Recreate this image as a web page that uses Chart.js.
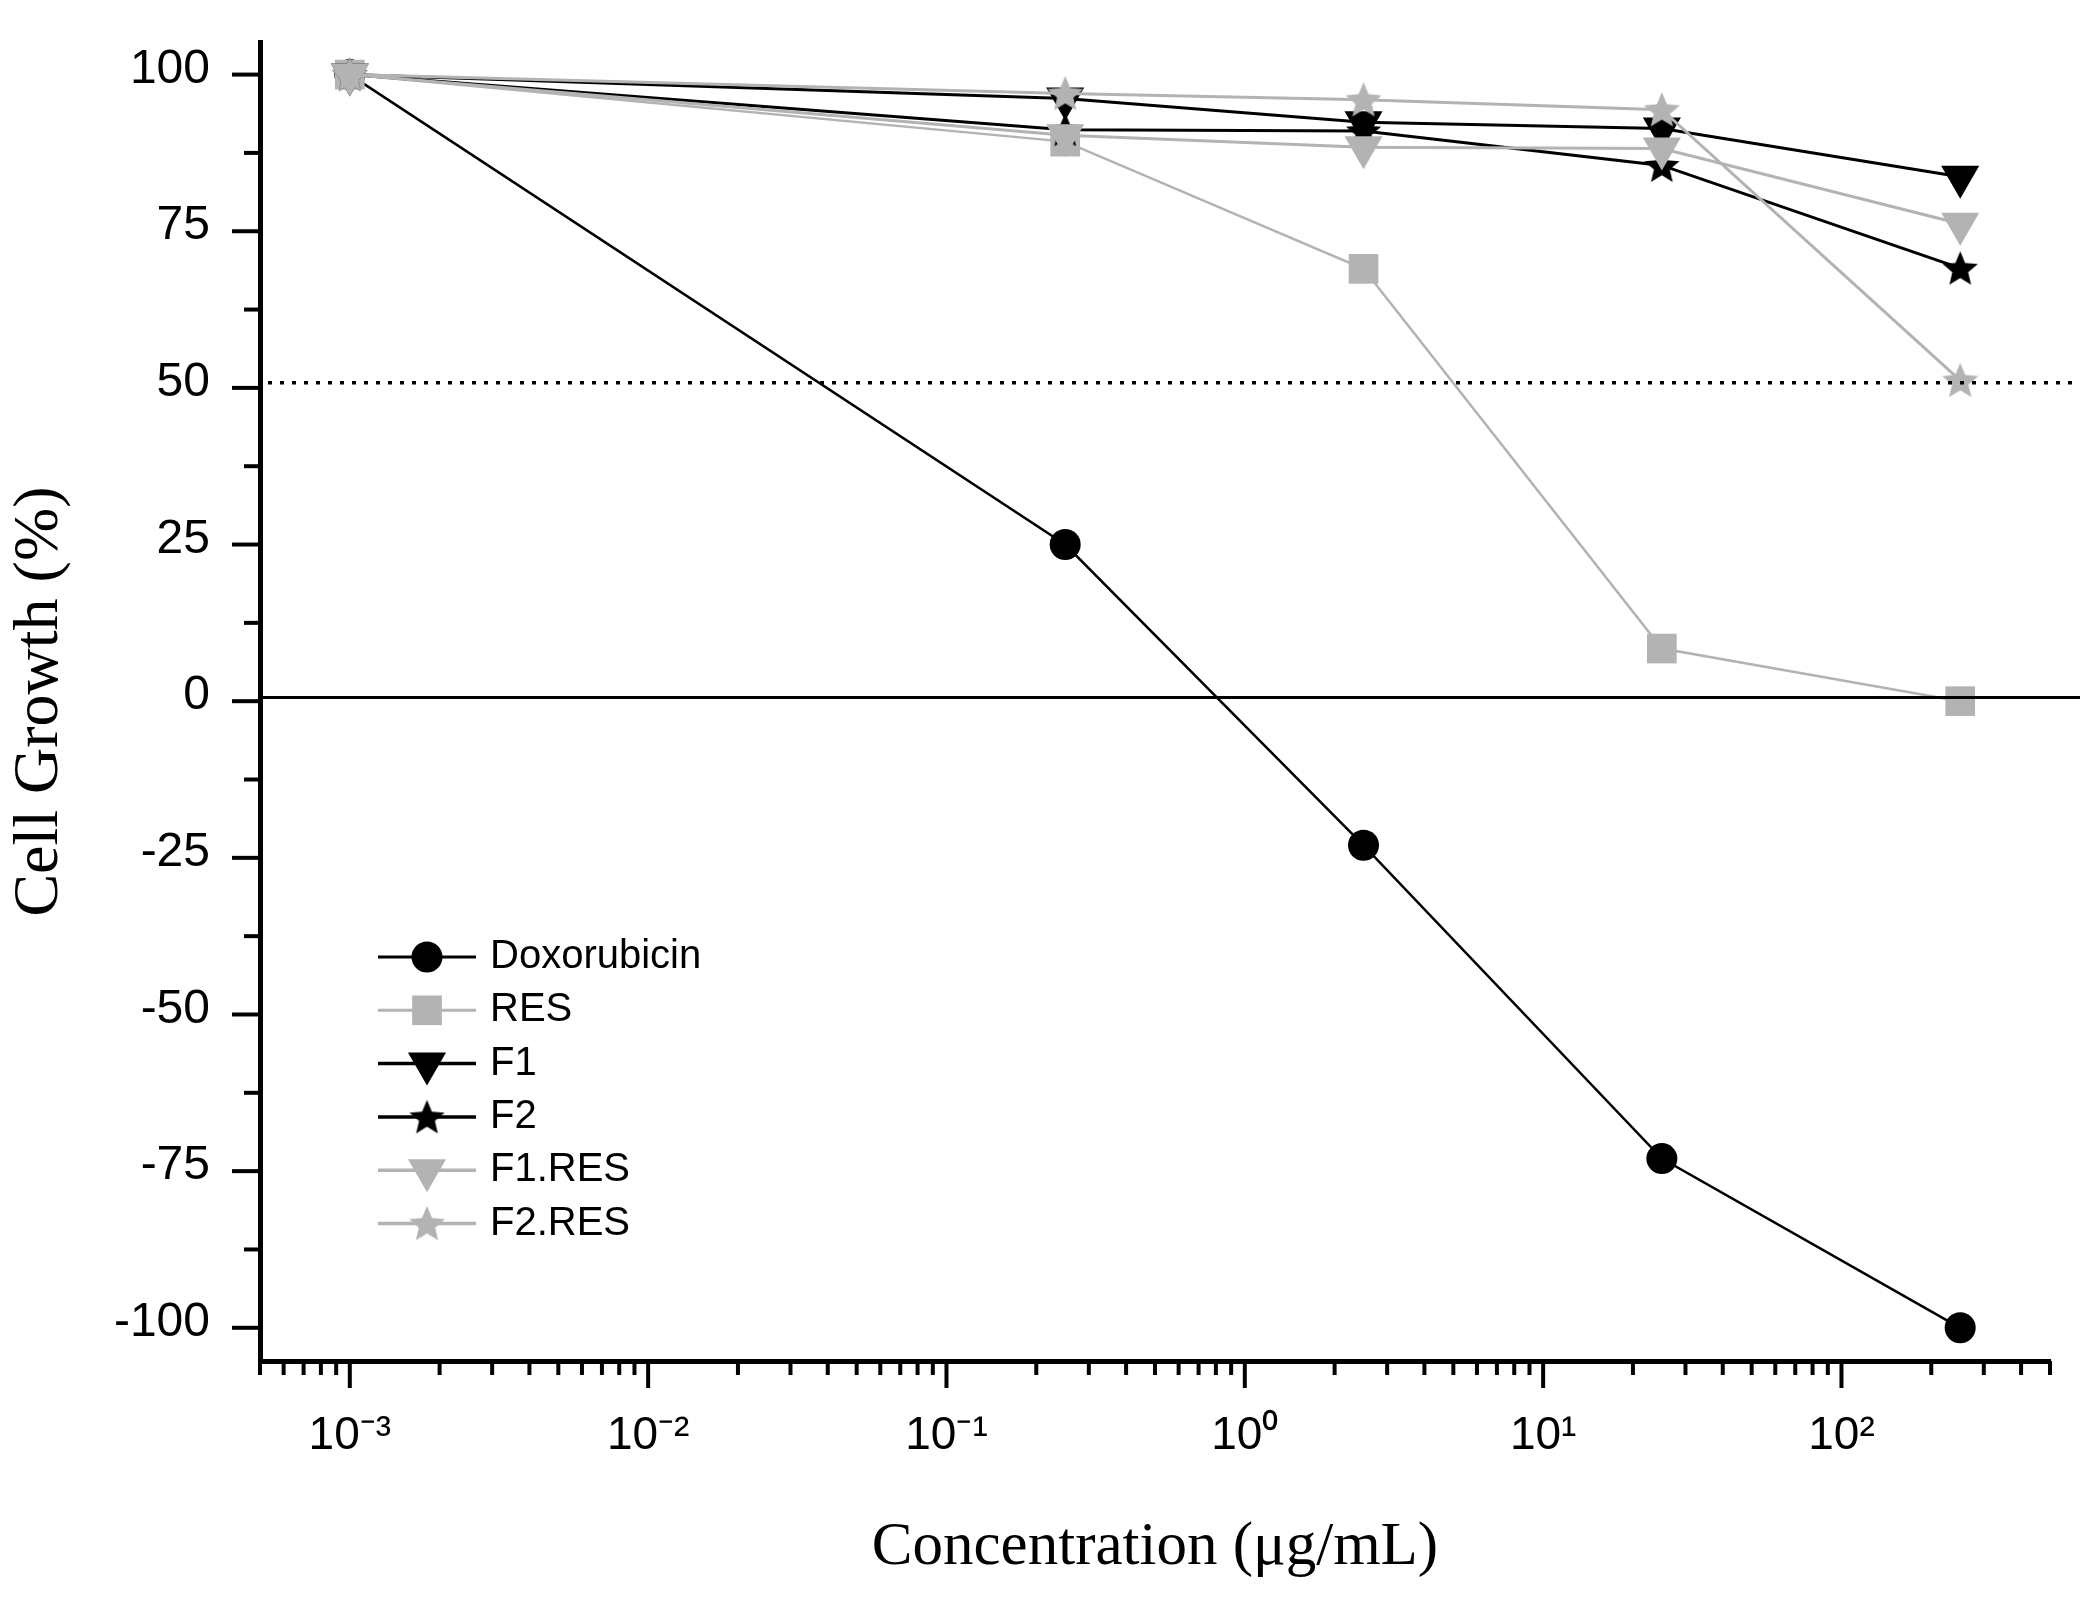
<!DOCTYPE html>
<html>
<head>
<meta charset="utf-8">
<script src="https://cdn.jsdelivr.net/npm/chart.js@4.4.1/dist/chart.umd.min.js"></script>
<style>
html,body{margin:0;padding:0;background:#fff;overflow:hidden}
canvas{display:block}
</style>
</head>
<body>
<canvas id="c" width="2095" height="1604"></canvas>
<script>
// ---- data ----
const concentrations = [0.001, 0.25, 2.5, 25, 250];
const doxorubicin = [100, 25, -23, -73, -100];
const res = [100, 89.3, 69, 8.4, 0];
const f1 = [100, 96.2, 92.4, 91.4, 83.7];
const f2 = [100, 91.2, 91.0, 85.5, 69.1];
const f1Res = [100, 90.3, 88.4, 88.2, 76.2];
const f2Res = [100, 97.0, 96.0, 94.4, 51.2];
const seriesNames = ['Doxorubicin', 'RES', 'F1', 'F2', 'F1.RES', 'F2.RES'];
const seriesValues = [doxorubicin, res, f1, f2, f1Res, f2Res];
const xTickExponents = [-3, -2, -1, 0, 1, 2];
const yTickValues = [-100, -75, -50, -25, 0, 25, 50, 75, 100];
const referenceLines = [0.6, 50.8];
const xTitle = 'Concentration (\u03bcg/mL)';
const yTitle = 'Cell Growth (%)';

// ---- styles ----
const BLACK = '#000000', GRAY = '#b3b3b3';
function makeStar(color, R, inner) {
  const s = Math.ceil(2 * R) + 2;
  const c = document.createElement('canvas');
  c.width = s; c.height = s;
  const g = c.getContext('2d');
  g.fillStyle = color;
  g.beginPath();
  for (let i = 0; i < 10; i++) {
    const r = i % 2 ? R * inner : R;
    const a = -Math.PI / 2 + i * Math.PI / 5;
    const px = s / 2 + r * Math.cos(a), py = s / 2 + 1.5 + r * Math.sin(a);
    if (i === 0) g.moveTo(px, py); else g.lineTo(px, py);
  }
  g.closePath();
  g.fill();
  return c;
}
const starBlack = makeStar(BLACK, 18.5, 0.45);
const starGray = makeStar(GRAY, 19, 0.45);
const seriesStyles = [
  {color: BLACK, pointStyle: 'circle', radius: 15.5, rotation: 0, lw: 2.5},
  {color: GRAY, pointStyle: 'rect', radius: 21, rotation: 0, lw: 2.5},
  {color: BLACK, pointStyle: 'triangle', radius: 22, rotation: 180, lw: 3},
  {color: BLACK, pointStyle: starBlack, radius: 18, rotation: 0, lw: 3},
  {color: GRAY, pointStyle: 'triangle', radius: 22, rotation: 180, lw: 3},
  {color: GRAY, pointStyle: starGray, radius: 18, rotation: 0, lw: 3}
];

const datasets = seriesNames.map((name, i) => {
  const st = seriesStyles[i];
  return {
    label: name,
    data: concentrations.map((x, j) => ({x: x, y: seriesValues[i][j]})),
    borderColor: st.color,
    backgroundColor: st.color,
    borderWidth: st.lw,
    pointStyle: st.pointStyle,
    pointRadius: st.radius,
    pointHoverRadius: st.radius,
    pointRotation: st.rotation,
    pointBackgroundColor: st.color,
    pointBorderColor: st.color,
    pointBorderWidth: 0,
    tension: 0,
    fill: false,
    order: seriesNames.length - i
  };
});

const SUP = {'-': '\u207b', '0': '\u2070', '1': '\u00b9', '2': '\u00b2', '3': '\u00b3',
  '4': '\u2074', '5': '\u2075', '6': '\u2076', '7': '\u2077', '8': '\u2078', '9': '\u2079'};
function powLabel(v) {
  const e = Math.round(Math.log10(v));
  return '10' + String(e).split('').map(ch => SUP[ch]).join('');
}

function fallbackPoint(ctx, style, r, rot, x, y) {
  if (typeof style !== 'string') {
    ctx.drawImage(style, x - style.width / 2, y - style.height / 2);
    return;
  }
  ctx.beginPath();
  if (style === 'circle') ctx.arc(x, y, r, 0, Math.PI * 2);
  else if (style === 'rect') { const s = Math.SQRT1_2 * r; ctx.rect(x - s, y - s, 2 * s, 2 * s); }
  else if (style === 'triangle') {
    let a = rot * Math.PI / 180;
    for (let k = 0; k < 3; k++) {
      const px = x + Math.sin(a) * r, py = y - Math.cos(a) * r;
      if (k === 0) ctx.moveTo(px, py); else ctx.lineTo(px, py);
      a += 2 * Math.PI / 3;
    }
    ctx.closePath();
  }
  ctx.fill();
}

// ---- plugins ----
const axisTicks = {
  id: 'axisTicks',
  afterDraw(chart) {
    const {ctx, chartArea: a} = chart;
    const xs = chart.scales.x, ys = chart.scales.y;
    ctx.save();
    ctx.strokeStyle = '#000';
    ctx.lineWidth = 4;
    ctx.lineCap = 'butt';
    const e0 = Math.floor(Math.log10(xs.min)), e1 = Math.ceil(Math.log10(xs.max));
    for (let e = e0; e <= e1; e++) {
      for (let k = 1; k < 10; k++) {
        const v = k * Math.pow(10, e);
        if (v < xs.min * 0.999 || v > xs.max * 1.001) continue;
        const px = xs.getPixelForValue(v);
        const len = k === 1 ? 27 : 14;
        ctx.beginPath();
        ctx.moveTo(px, a.bottom);
        ctx.lineTo(px, a.bottom + len);
        ctx.stroke();
      }
    }
    for (let i = 0; i < yTickValues.length; i++) {
      const v = yTickValues[i];
      let py = ys.getPixelForValue(v);
      ctx.beginPath(); ctx.moveTo(a.left, py); ctx.lineTo(a.left - 28, py); ctx.stroke();
      if (i < yTickValues.length - 1) {
        const mv = (v + yTickValues[i + 1]) / 2;
        py = ys.getPixelForValue(mv);
        ctx.beginPath(); ctx.moveTo(a.left, py); ctx.lineTo(a.left - 16, py); ctx.stroke();
      }
    }
    ctx.restore();
  }
};

const refLinesPlugin = {
  id: 'refLines',
  afterDatasetsDraw(chart) {
    const {ctx, chartArea: a} = chart;
    const ys = chart.scales.y;
    ctx.save();
    ctx.strokeStyle = '#000';
    let py = ys.getPixelForValue(referenceLines[0]);
    ctx.lineWidth = 3;
    ctx.setLineDash([]);
    ctx.beginPath(); ctx.moveTo(a.left, py); ctx.lineTo(a.right + 30, py); ctx.stroke();
    py = ys.getPixelForValue(referenceLines[1]);
    ctx.lineWidth = 3.5;
    ctx.setLineDash([4, 8]);
    ctx.beginPath(); ctx.moveTo(a.left + 8, py); ctx.lineTo(a.right + 22, py); ctx.stroke();
    ctx.restore();
  }
};

const insideLegend = {
  id: 'insideLegend',
  afterDraw(chart) {
    const {ctx, chartArea: a} = chart;
    const x0 = a.left + 118, x1 = a.left + 216, xm = a.left + 167, xt = a.left + 230;
    const y0 = a.top + 915, dy = 53.3;
    ctx.save();
    ctx.font = '40px "Liberation Sans", Arial, sans-serif';
    ctx.textBaseline = 'middle';
    ctx.textAlign = 'left';
    chart.data.datasets.forEach((ds, i) => {
      const y = y0 + i * dy;
      ctx.setLineDash([]);
      ctx.strokeStyle = ds.borderColor;
      ctx.lineWidth = ds.borderWidth + 0.5;
      ctx.beginPath(); ctx.moveTo(x0, y); ctx.lineTo(x1, y); ctx.stroke();
      ctx.fillStyle = ds.pointBackgroundColor;
      if (Chart.helpers && Chart.helpers.drawPoint) {
        Chart.helpers.drawPoint(ctx, {pointStyle: ds.pointStyle, radius: ds.pointRadius,
          rotation: ds.pointRotation, borderWidth: 0}, xm, y);
      } else {
        fallbackPoint(ctx, ds.pointStyle, ds.pointRadius, ds.pointRotation, xm, y);
      }
      ctx.fillStyle = '#000';
      ctx.fillText(ds.label, xt, y);
    });
    ctx.restore();
  }
};

// ---- chart ----
new Chart(document.getElementById('c'), {
  type: 'line',
  data: {datasets: datasets},
  plugins: [refLinesPlugin, axisTicks, insideLegend],
  options: {
    responsive: false,
    animation: false,
    events: [],
    layout: {padding: {top: 42, right: 45, bottom: 0, left: 0}},
    plugins: {legend: {display: false}, tooltip: {enabled: false}, title: {display: false}},
    scales: {
      x: {
        type: 'logarithmic',
        position: 'bottom',
        min: 0.0005,
        max: 500,
        grid: {display: false, drawTicks: false},
        border: {display: true, color: '#000', width: 5},
        afterBuildTicks: (scale) => { scale.ticks = xTickExponents.map(e => ({value: Math.pow(10, e)})); },
        afterFit: (scale) => { scale.height = 243; scale.paddingLeft = 0; scale.paddingRight = 0; },
        ticks: {
          autoSkip: false,
          maxRotation: 0,
          minRotation: 0,
          padding: 48,
          color: '#000',
          font: {family: '"Liberation Sans", Arial, sans-serif', size: 46},
          callback: (v) => powLabel(v)
        },
        title: {
          display: true,
          text: xTitle,
          color: '#000',
          font: {family: '"Liberation Serif", "Times New Roman", serif', size: 61},
          padding: {top: 0, bottom: 19}
        }
      },
      y: {
        type: 'linear',
        position: 'left',
        min: -105.3,
        max: 105.2,
        grid: {display: false, drawTicks: false},
        border: {display: true, color: '#000', width: 5},
        afterBuildTicks: (scale) => { scale.ticks = yTickValues.map(v => ({value: v})); },
        afterFit: (scale) => { scale.width = 260; scale.paddingTop = 0; scale.paddingBottom = 0; },
        ticks: {
          autoSkip: false,
          padding: 50,
          labelOffset: -5,
          color: '#000',
          font: {family: '"Liberation Sans", Arial, sans-serif', size: 48},
          callback: (v) => String(v)
        },
        title: {
          display: true,
          text: yTitle,
          color: '#000',
          font: {family: '"Liberation Serif", "Times New Roman", serif', size: 64},
          padding: {top: 2, bottom: 0}
        }
      }
    }
  }
});
</script>
</body>
</html>
